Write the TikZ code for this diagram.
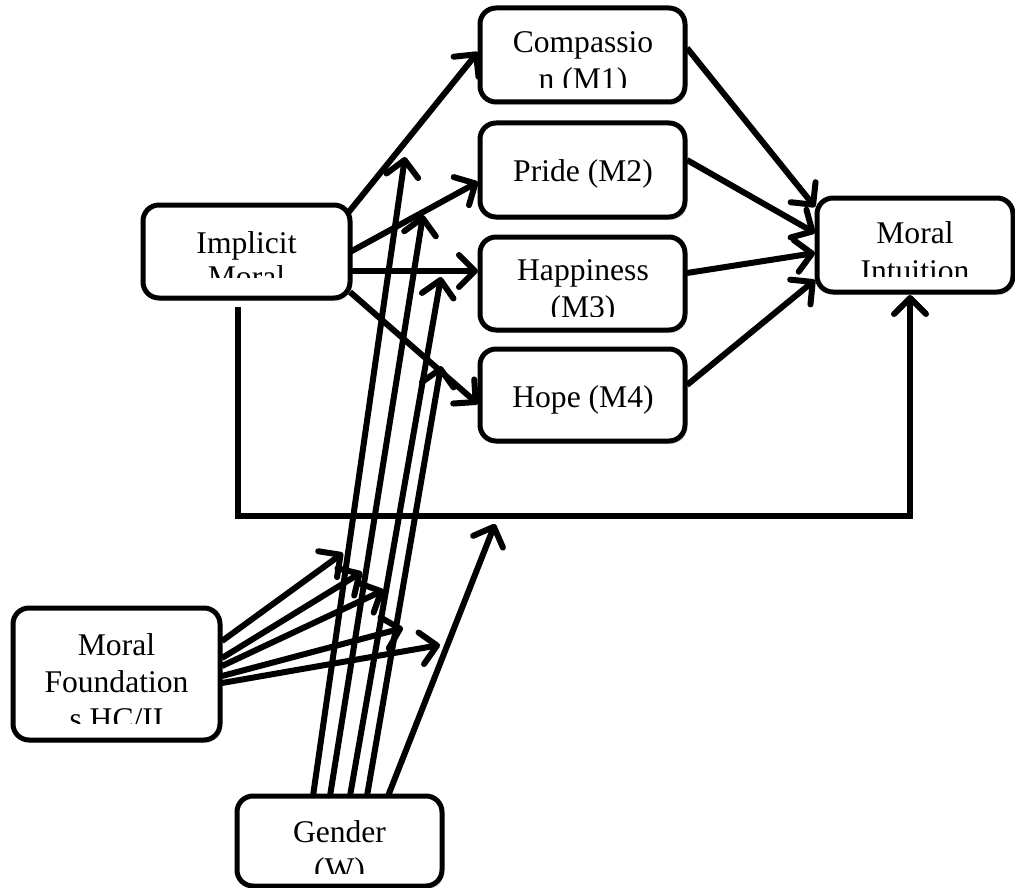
\documentclass[tikz,border=0pt]{standalone}
\usepackage{fontspec}
\setmainfont{Liberation Serif}
\usetikzlibrary{arrows.meta,shadows}
\tikzset{
  box/.style={draw, line width=5pt, rounded corners=16pt, fill=white, inner sep=0pt,
    drop shadow={opacity=0.22, shadow xshift=2pt, shadow yshift=-3pt}},
  lbl/.style={anchor=base, inner sep=0pt, font=\fontsize{31.6}{37}\selectfont},
  conn/.style={line width=6pt, line join=miter, -{Straight Barb[length=16pt,width=32pt,round]}},
}
\begin{document}
\begin{tikzpicture}[x=1pt,y=-1pt]
\useasboundingbox (0,0) rectangle (1015,888);
% boxes
\node[box, minimum width=205pt, minimum height=94pt] (m1) at (582.5,55) {};
\node[box, minimum width=205pt, minimum height=94pt] (m2) at (582.5,170) {};
\node[box, minimum width=205pt, minimum height=93pt] (m3) at (582.5,283.5) {};
\node[box, minimum width=205pt, minimum height=92pt] (m4) at (582.5,395) {};
\node[box, minimum width=207pt, minimum height=93pt] (im) at (246.5,251.5) {};
\node[box, minimum width=196pt, minimum height=94pt] (mi) at (915,245) {};
\node[box, minimum width=207pt, minimum height=132pt] (mf) at (116.5,674) {};
\node[box, minimum width=205pt, minimum height=90pt] (gw) at (339.5,841) {};
% labels (clipped like the original text boxes)
\begin{scope}\clip (480,8) rectangle (685,88);
  \node[lbl] (t1a) at (583,53) {Compassio};
  \node[lbl] (t1b) at (583,90) {n (M1)};
\end{scope}
\node[lbl] (t2) at (583,182) {Pride (M2)};
\begin{scope}\clip (480,237) rectangle (685,316);
  \node[lbl] (t3a) at (583,280) {Happiness};
  \node[lbl] (t3b) at (583,317) {(M3)};
\end{scope}
\node[lbl] (t4) at (583,407) {Hope (M4)};
\begin{scope}\clip (143,205) rectangle (350,277);
  \node[lbl] (t5a) at (246.5,253) {Implicit};
  \node[lbl] (t5b) at (246.5,287) {Moral};
\end{scope}
\begin{scope}\clip (817,198) rectangle (1013,276);
  \node[lbl] (t6a) at (915,243) {Moral};
  \node[lbl] (t6b) at (915,281) {Intuition};
\end{scope}
\begin{scope}\clip (13,608) rectangle (220,723);
  \node[lbl] (t7a) at (116.5,655) {Moral};
  \node[lbl] (t7b) at (116.5,692) {Foundation};
  \node[lbl] (t7c) at (116.5,729) {s HC/II};
\end{scope}
\begin{scope}\clip (237,796) rectangle (442,873);
  \node[lbl] (t8a) at (339.5,842) {Gender};
  \node[lbl] (t8b) at (339.5,879) {(W)};
\end{scope}
% connector end points
\coordinate (imA) at (348,213);
\coordinate (imB) at (350,252);
\coordinate (imC) at (350,271);
\coordinate (imD) at (350,292);
\coordinate (m1in) at (478,52);
\coordinate (m2in) at (478,182);
\coordinate (m3in) at (478,271);
\coordinate (m4in) at (478,404);
\coordinate (m1out) at (687,48);
\coordinate (m2out) at (687,160);
\coordinate (m3out) at (687,273);
\coordinate (m4out) at (687,385);
\coordinate (miA) at (815,207);
\coordinate (miB) at (815,233);
\coordinate (miC) at (815,253);
\coordinate (miD) at (815,280);
\coordinate (fb0) at (238,307);
\coordinate (fb1) at (238,516);
\coordinate (fb2) at (910,516);
\coordinate (fb3) at (910,295);
\coordinate (g1) at (313,796);
\coordinate (g2) at (330,796);
\coordinate (g3) at (350,796);
\coordinate (g4) at (367,796);
\coordinate (g5) at (388,796);
\coordinate (gA) at (405,157);
\coordinate (gB) at (423,215);
\coordinate (gC) at (441,277);
\coordinate (gD) at (441,366);
\coordinate (gE) at (495,524);
\coordinate (f1) at (222,641);
\coordinate (f2) at (222,658);
\coordinate (f3) at (222,666);
\coordinate (f4) at (222,676);
\coordinate (f5) at (222,683);
\coordinate (fA) at (343,553);
\coordinate (fB) at (362,572);
\coordinate (fC) at (384,590);
\coordinate (fD) at (403,628);
\coordinate (fE) at (440,645);
% connectors
\draw[conn] (imA) -- (m1in);
\draw[conn] (imB) -- (m2in);
\draw[conn] (imC) -- (m3in);
\draw[conn] (imD) -- (m4in);
\draw[conn] (m1out) -- (miA);
\draw[conn] (m2out) -- (miB);
\draw[conn] (m3out) -- (miC);
\draw[conn] (m4out) -- (miD);
\draw[conn] (fb0) -- (fb1) -- (fb2) -- (fb3);
\draw[conn] (g1) -- (gA);
\draw[conn] (g2) -- (gB);
\draw[conn] (g3) -- (gC);
\draw[conn] (g4) -- (gD);
\draw[conn] (g5) -- (gE);
\draw[conn] (f1) -- (fA);
\draw[conn] (f2) -- (fB);
\draw[conn] (f3) -- (fC);
\draw[conn] (f4) -- (fD);
\draw[conn] (f5) -- (fE);
\end{tikzpicture}
\end{document}
